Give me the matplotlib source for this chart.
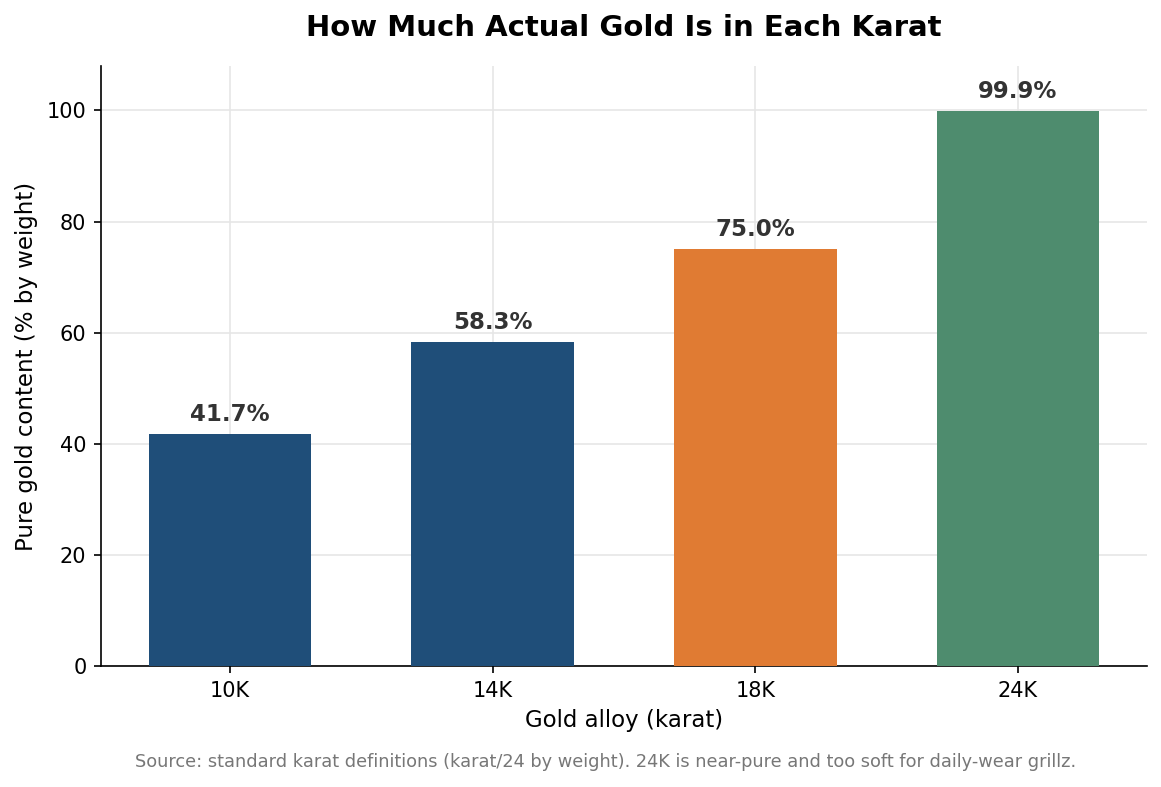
import matplotlib
matplotlib.use("Agg")
import matplotlib.pyplot as plt

categories = ["10K", "14K", "18K", "24K"]
values = [41.7, 58.3, 75.0, 99.9]
labels = ["41.7%", "58.3%", "75.0%", "99.9%"]
colors = ["#1f4e79", "#1f4e79", "#e07b33", "#4e8c6e"]

fig = plt.figure(figsize=(1161/150, 787/150), dpi=150)
ax = fig.add_axes([101/1161, 121/787, 1046/1161, 600/787])

bars = ax.bar(categories, values, width=0.62, color=colors, zorder=3)
for b, lab in zip(bars, labels):
    ax.text(b.get_x() + b.get_width()/2, b.get_height() + 1.5, lab,
            ha="center", va="bottom", fontsize=11, fontweight="bold", color="#333333", zorder=4)

ax.set_ylim(0, 108)
ax.grid(True, color="#e6e6e6", linewidth=0.8, zorder=0)
ax.spines["top"].set_visible(False)
ax.spines["right"].set_visible(False)
ax.tick_params(labelsize=10)
ax.set_xlabel("Gold alloy (karat)", fontsize=11)
ax.set_ylabel("Pure gold content (% by weight)", fontsize=11)
fig.text(624/1161, 1 - 28/787, "How Much Actual Gold Is in Each Karat", ha="center", va="center",
         fontsize=14, fontweight="bold")
fig.text(606/1161, 1 - 762/787,
         "Source: standard karat definitions (karat/24 by weight). 24K is near-pure and too soft for daily-wear grillz.",
         ha="center", va="center", fontsize=8.5, color="#777777")

fig.savefig("out.png", dpi=150)
